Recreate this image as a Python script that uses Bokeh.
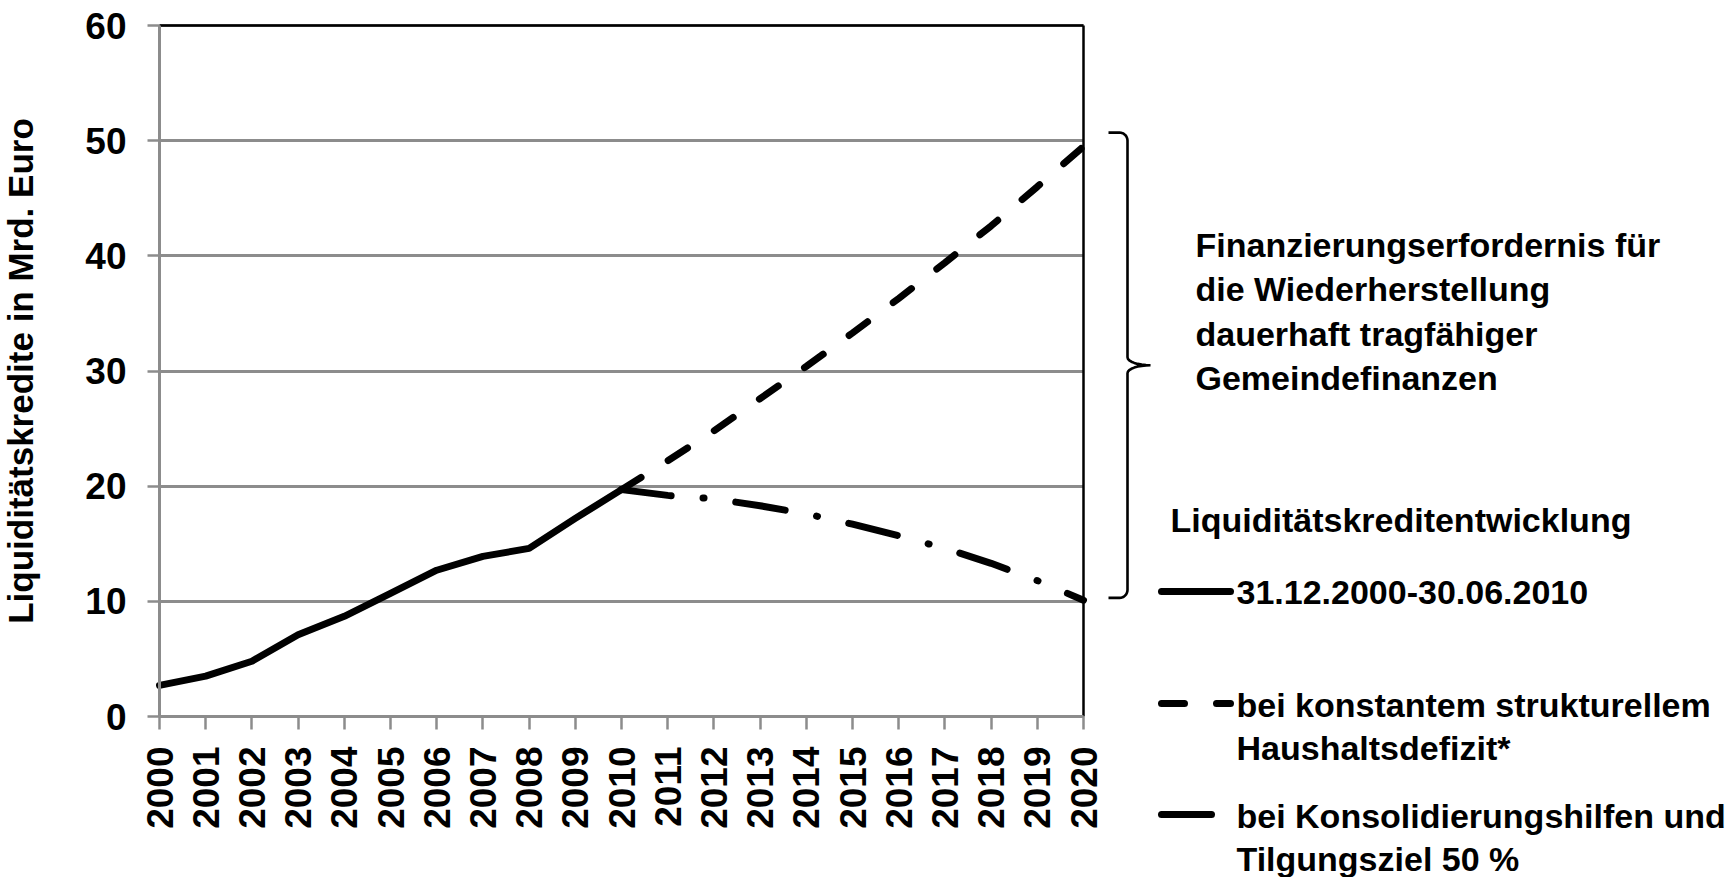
import math
from bokeh.plotting import figure
from bokeh.models import Range1d, FixedTicker, Label, PolyAnnotation, Arrow
from bokeh.embed import file_html
from bokeh.resources import INLINE

# ---------------- data ----------------
hist_years = [2000, 2001, 2002, 2003, 2004, 2005, 2006, 2007, 2008, 2009, 2010]
hist_values = [2.7, 3.5, 4.8, 7.1, 8.7, 10.7, 12.7, 13.9, 14.6, 17.2, 19.7]
proj_years = [2010, 2011, 2012, 2013, 2014, 2015, 2016, 2017, 2018, 2019, 2020]
deficit_values = [19.7, 22.2, 24.8, 27.6, 30.4, 33.3, 36.3, 39.4, 42.6, 46.0, 49.5]
consol_values = [19.7, 19.2, 18.9, 18.3, 17.6, 16.7, 15.7, 14.6, 13.3, 11.8, 10.1]
x_ticks = list(range(2000, 2021))
y_ticks = [0, 10, 20, 30, 40, 50, 60]

y_label = "Liquiditätskredite in Mrd. Euro"
note_lines = ["Finanzierungserfordernis für", "die Wiederherstellung",
              "dauerhaft tragfähiger", "Gemeindefinanzen"]
legend_title = "Liquiditätskreditentwicklung"
legend_labels = [["31.12.2000-30.06.2010"],
                 ["bei konstantem strukturellem", "Haushaltsdefizit*"],
                 ["bei Konsolidierungshilfen und", "Tilgungsziel 50 %"]]

# ---------------- layout ----------------
W, H = 1733, 877
FL, FR, FT, FB = 159, 1083, 25, 716   # plot area edges in canvas pixels
X0, X1, Y0, Y1 = x_ticks[0], x_ticks[-1], y_ticks[0], y_ticks[-1]
FONT = "Liberation Sans"
GREY = "#8c8c8c"
LW = 7
DASH = "23 32"
DASHDOT = "50 32 1 32"


def dx(px):
    return X0 + (px - FL) * (X1 - X0) / (FR - FL)


def dy(py):
    return Y0 + (FB - py) * (Y1 - Y0) / (FB - FT)


def py_of(v):
    return FB - (v - Y0) * (FB - FT) / (Y1 - Y0)


# the frame covers the whole canvas; the axes are pinned at 2000 / 0
p = figure(width=W, height=H, output_backend="svg", toolbar_location=None,
           x_range=Range1d(dx(0), dx(W)), y_range=Range1d(dy(H), dy(0)),
           min_border=0)
p.outline_line_color = None
p.background_fill_color = "white"
p.border_fill_color = "white"

p.xaxis.ticker = FixedTicker(ticks=x_ticks)
p.yaxis.ticker = FixedTicker(ticks=y_ticks)
p.xaxis.fixed_location = Y0
p.yaxis.fixed_location = X0
p.xaxis.bounds = (X0, X1)
p.yaxis.bounds = (Y0, Y1)
for ax in (p.xaxis, p.yaxis):
    ax.axis_line_color = GREY
    ax.axis_line_width = 3
    ax.major_tick_line_color = GREY
    ax.major_tick_line_width = 2.5
    ax.major_tick_in = 0
    ax.minor_tick_line_color = None
    ax.major_label_text_font = FONT
    ax.major_label_text_font_style = "bold"
    ax.major_label_text_color = "black"
p.yaxis.major_tick_out = 12
p.xaxis.major_tick_out = 13
p.yaxis.major_label_text_font_size = "37px"
p.xaxis.major_label_text_font_size = "37px"
p.yaxis.major_label_standoff = 21
p.xaxis.major_label_standoff = 17
p.xaxis.major_label_orientation = math.pi / 2

p.xgrid.grid_line_color = None
g = p.ygrid[0]
g.grid_line_color = GREY
g.grid_line_width = 3
try:
    g.cross_bounds = (X0, X1)
except Exception:
    g.grid_line_color = None
    p.segment(x0=X0, x1=X1, y0=y_ticks, y1=y_ticks, line_color=GREY, line_width=3)

# top / right border of the plot area
p.segment(x0=[X0, X1], y0=[Y1, Y0], x1=[X1, X1], y1=[Y1, Y1],
          line_color="black", line_width=2.5)

# data lines
p.line(proj_years, deficit_values, line_color="black", line_width=LW,
       line_dash=DASH, line_cap="round")
p.line(proj_years, consol_values, line_color="black", line_width=LW,
       line_dash=DASHDOT, line_cap="round")
p.line(hist_years, hist_values, line_color="black", line_width=LW,
       line_cap="round", line_join="round")

# y axis title
p.add_layout(Label(x=dx(20), y=(Y0 + Y1) / 2, text=y_label, angle=math.pi / 2,
                   text_font=FONT, text_font_style="bold", text_font_size="35px",
                   text_color="black", text_align="center", text_baseline="middle"))

# curly brace spanning the gap between the two scenarios in 2020
top = py_of(deficit_values[-1] + 1.2)
bot = py_of(consol_values[-1] + 0.2)
mid = (top + bot) / 2
bh, bv, bt, r, r2 = 1108, 1127, 1150, 8, 8
pts = [(bh, top), (bv - r, top)]
for k in range(1, 9):
    t = math.radians(-90 + 90 * k / 8)
    pts.append((bv - r + r * math.cos(t), top + r + r * math.sin(t)))
pts.append((bv, mid - r2))
a = bt - bv
for k in range(1, 9):
    t = math.radians(90 * k / 8)
    pts.append((bt - a * math.cos(t), mid - r2 + r2 * math.sin(t)))
for k in range(7, -1, -1):
    t = math.radians(90 * k / 8)
    pts.append((bt - a * math.cos(t), mid + r2 - r2 * math.sin(t)))
pts.append((bv, bot - r))
for k in range(1, 9):
    t = math.radians(90 * k / 8)
    pts.append((bv - r + r * math.cos(t), bot - r + r * math.sin(t)))
pts.append((bh, bot))
xs = [dx(c[0]) for c in pts]
ys = [dy(c[1]) for c in pts]
p.add_layout(PolyAnnotation(xs=xs + xs[::-1], ys=ys + ys[::-1], fill_color=None,
                            fill_alpha=0, line_color="black", line_alpha=1.0,
                            line_width=2.6))

TS = "34px"


def add_text(px, py, txt):
    p.add_layout(Label(x=dx(px), y=dy(py), text=txt, text_font=FONT,
                       text_font_style="bold", text_font_size=TS,
                       text_color="black", text_align="left",
                       text_baseline="middle"))


for i, line in enumerate(note_lines):
    add_text(1195, 244 + 44.5 * i, line)

# manual legend
add_text(1170, 519, legend_title)
key_styles = [None, DASH, DASHDOT]
key_y = [591, 703, 814]
for ky, style, labels in zip(key_y, key_styles, legend_labels):
    kw = dict(x_start=dx(1161), y_start=dy(ky), x_end=dx(1230), y_end=dy(ky),
              end=None, line_color="black", line_width=LW, line_cap="round")
    if style:
        kw["line_dash"] = style
    p.add_layout(Arrow(**kw))
    for j, lab in enumerate(labels):
        add_text(1236, ky + 1 + 43 * j, lab)

open("out.html", "w").write(file_html(p, INLINE))
